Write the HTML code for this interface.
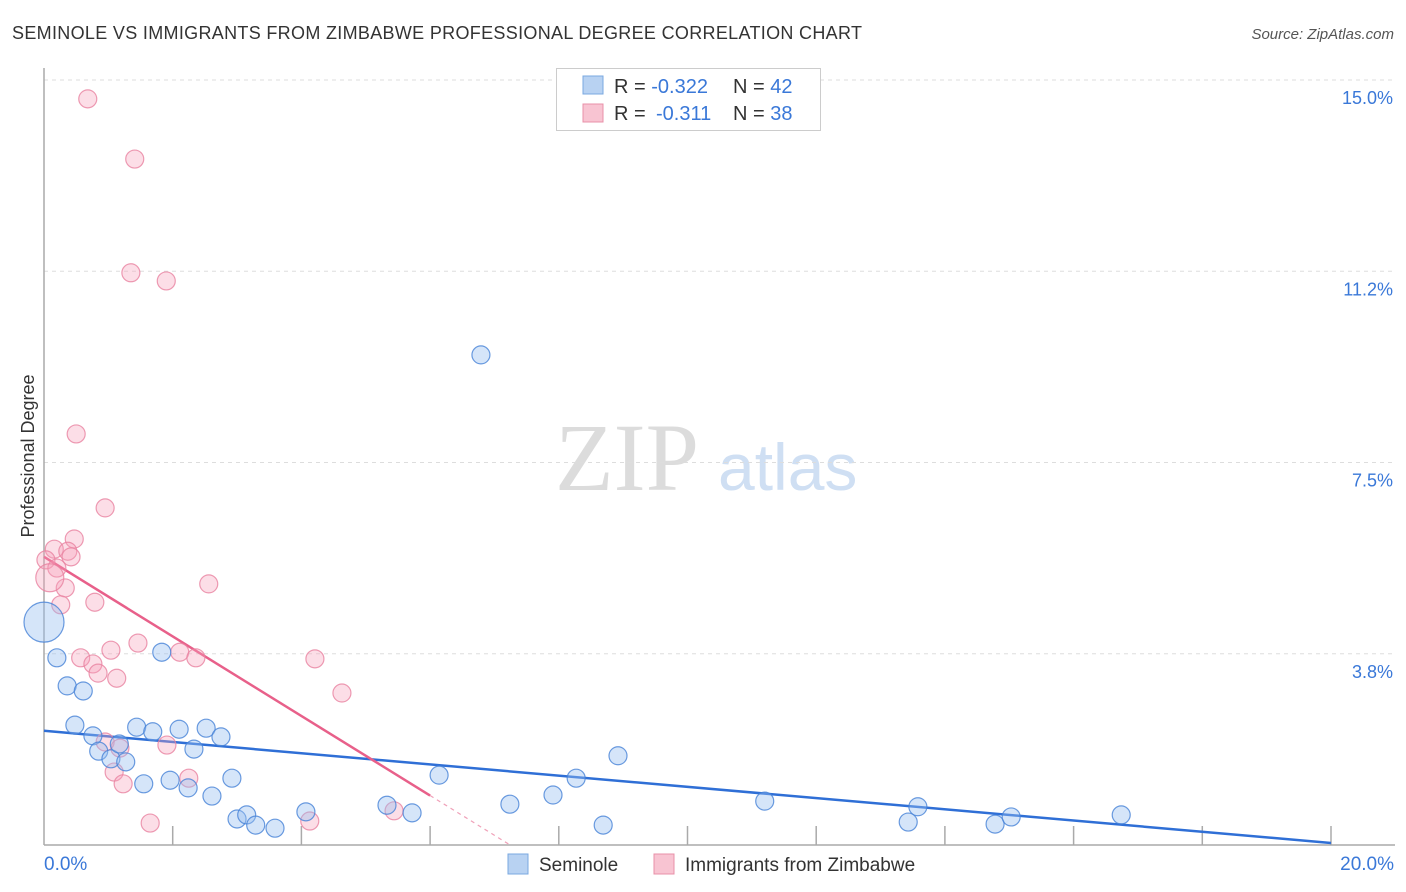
<!DOCTYPE html>
<html><head><meta charset="utf-8"><style>
body{margin:0;background:#fff;font-family:"Liberation Sans",sans-serif;}
#wrap{position:relative;width:1406px;height:892px;overflow:hidden;}
</style></head><body>
<div id="wrap">
<svg id="svg" width="1406" height="892" xmlns="http://www.w3.org/2000/svg">
<text x="12" y="39" font-size="18" fill="#333" textLength="850" lengthAdjust="spacing">SEMINOLE VS IMMIGRANTS FROM ZIMBABWE PROFESSIONAL DEGREE CORRELATION CHART</text>
<text x="1394" y="39" font-size="15" fill="#555" font-style="italic" text-anchor="end">Source: ZipAtlas.com</text>
<text x="34" y="456" font-size="18" fill="#333" text-anchor="middle" transform="rotate(-90 34 456)">Professional Degree</text>
<text x="555" y="490" font-size="96" fill="#dcdcdc" font-family="Liberation Serif,serif">ZIP</text>
<text x="718" y="490" font-size="66" fill="#cfdff3">atlas</text>
<g id="grid"></g><g id="axes"></g><g id="lines"></g><g id="pts"></g>
<g>
<rect x="556.5" y="68.5" width="264" height="62" fill="#fff" stroke="#ccc"/>
<rect x="583" y="76" width="20" height="18" fill="#b8d2f2" stroke="#7aa8e0"/>
<rect x="583" y="104" width="20" height="18" fill="#f8c4d2" stroke="#e890a8"/>
<text x="614" y="93" font-size="20" fill="#333">R = <tspan fill="#3a78d8">-0.322</tspan><tspan x="733">N = </tspan><tspan fill="#3a78d8">42</tspan></text>
<text x="614" y="120" font-size="20" fill="#333">R = <tspan fill="#3a78d8" x="656">-0.311</tspan><tspan x="733">N = </tspan><tspan fill="#3a78d8">38</tspan></text>
</g>
<g>
<rect x="508" y="854" width="20" height="20" fill="#b8d2f2" stroke="#7aa8e0"/>
<text x="539" y="871" font-size="19" fill="#333">Seminole</text>
<rect x="654" y="854" width="20" height="20" fill="#f8c4d2" stroke="#e890a8"/>
<text x="685" y="871" font-size="19" fill="#333">Immigrants from Zimbabwe</text>
</g>
</svg>
</div>
<script>
const yTicks=[3.75,7.5,11.25,15.0];
const yTickLabels=["3.8%","7.5%","11.2%","15.0%"];
const xTickValues=[0,2,4,6,8,10,12,14,16,18,20];
const xEndLabels=["0.0%","20.0%"];
const semX=[0.00,0.20,0.36,0.61,0.48,0.76,0.85,1.04,1.17,1.27,1.44,1.69,1.55,1.83,1.96,2.10,2.24,2.33,2.52,2.61,2.75,2.92,3.00,3.15,3.29,3.59,4.07,5.33,5.72,6.14,6.79,7.24,7.91,8.27,8.69,8.92,11.20,13.43,13.58,14.78,15.03,16.74];
const semY=[4.37,3.67,3.12,3.02,2.35,2.14,1.84,1.69,1.98,1.63,2.31,2.22,1.20,3.78,1.27,2.27,1.12,1.88,2.29,0.96,2.12,1.31,0.51,0.59,0.39,0.33,0.65,0.78,0.63,1.37,9.61,0.80,0.98,1.31,0.39,1.75,0.86,0.45,0.75,0.41,0.55,0.59];
const semR=[20,9,9,9,9,9,9,9,9,9,9,9,9,9,9,9,9,9,9,9,9,9,9,9,9,9,9,9,9,9,9,9,9,9,9,9,9,9,9,9,9,9];
const zimX=[0.68,1.41,1.35,1.90,0.50,0.95,0.47,0.16,0.37,0.42,0.03,0.20,0.33,0.26,0.79,2.56,1.04,1.46,0.57,0.76,0.84,1.13,2.11,2.36,4.21,4.63,0.95,1.18,1.91,1.09,1.23,2.25,1.65,4.13,5.44,0.09];
const zimY=[14.63,13.45,11.22,11.06,8.06,6.61,6.00,5.80,5.76,5.65,5.59,5.43,5.04,4.71,4.76,5.12,3.82,3.96,3.67,3.55,3.37,3.27,3.78,3.67,3.65,2.98,2.02,1.90,1.96,1.43,1.20,1.31,0.43,0.47,0.67,5.24];
const zimR=[9,9,9,9,9,9,9,9,9,9,9,9,9,9,9,9,9,9,9,9,9,9,9,9,9,9,9,9,9,9,9,9,9,9,9,14];
const semTrend=[2.24,0.04];
const zimTrend=[5.65,-0.78];
const NS="http://www.w3.org/2000/svg";
const X0=44,X1=1331,Y0=845,PY=51;
const sx=v=>X0+(X1-X0)*v/20, sy=v=>Y0-v*PY;
function mk(tag,attrs,parent){const e=document.createElementNS(NS,tag);for(const k in attrs)e.setAttribute(k,attrs[k]);document.getElementById(parent).appendChild(e);return e;}
yTicks.forEach((t,i)=>{
 const l=mk('line',{x1:X0,x2:1395,y1:sy(t),y2:sy(t),stroke:'#ddd','stroke-dasharray':'4,4'},'grid');
 
 
 const tx=mk('text',{x:1393,y:sy(t)+24,'font-size':18,fill:'#3a78d8','text-anchor':'end'},'grid');
 tx.textContent=yTickLabels[i];
 
 
});
let a=mk('line',{x1:X0,x2:X0,y1:68,y2:Y0,stroke:'#aaa','stroke-width':1.5},'axes');


a=mk('line',{x1:X0,x2:1395,y1:Y0,y2:Y0,stroke:'#aaa','stroke-width':1.5},'axes');


xTickValues.slice(1).forEach(v=>{
 const t=mk('line',{x1:sx(v),x2:sx(v),y1:Y0,y2:Y0-19,stroke:'#aaa','stroke-width':1.5},'axes');
 
 
});
let t0=mk('text',{x:44,y:870,'font-size':19,fill:'#3a78d8'},'axes');t0.textContent=xEndLabels[0];


let t1=mk('text',{x:1394,y:870,'font-size':19,fill:'#3a78d8','text-anchor':'end'},'axes');t1.textContent=xEndLabels[1];


function dots(xs,ys,rs,fill,stroke,name){xs.forEach((x,i)=>{
 const c=mk('circle',{cx:sx(x),cy:sy(ys[i]),r:rs[i],fill:fill,stroke:stroke,'stroke-width':1.2},'pts');
 
 
});}
dots(zimX,zimY,zimR,'rgba(245,160,185,0.35)','rgba(232,130,160,0.8)','zimbabwe-point');
dots(semX,semY,semR,'rgba(150,190,240,0.4)','rgba(70,130,215,0.8)','seminole-point');
let bl=mk('line',{x1:sx(0),y1:sy(semTrend[0]),x2:sx(20),y2:sy(semTrend[1]),stroke:'#2f6fd6','stroke-width':2.5},'lines');


const zEnd=6, zZero=-zimTrend[0]/zimTrend[1];
let pl=mk('line',{x1:sx(0),y1:sy(zimTrend[0]),x2:sx(zEnd),y2:sy(zimTrend[0]+zimTrend[1]*zEnd),stroke:'#e8608a','stroke-width':2.5},'lines');


let pd=mk('line',{x1:sx(zEnd),y1:sy(zimTrend[0]+zimTrend[1]*zEnd),x2:sx(zZero),y2:sy(0),stroke:'#f0a0b8','stroke-width':1.2,'stroke-dasharray':'4,4'},'lines');


</script>
</body></html>
